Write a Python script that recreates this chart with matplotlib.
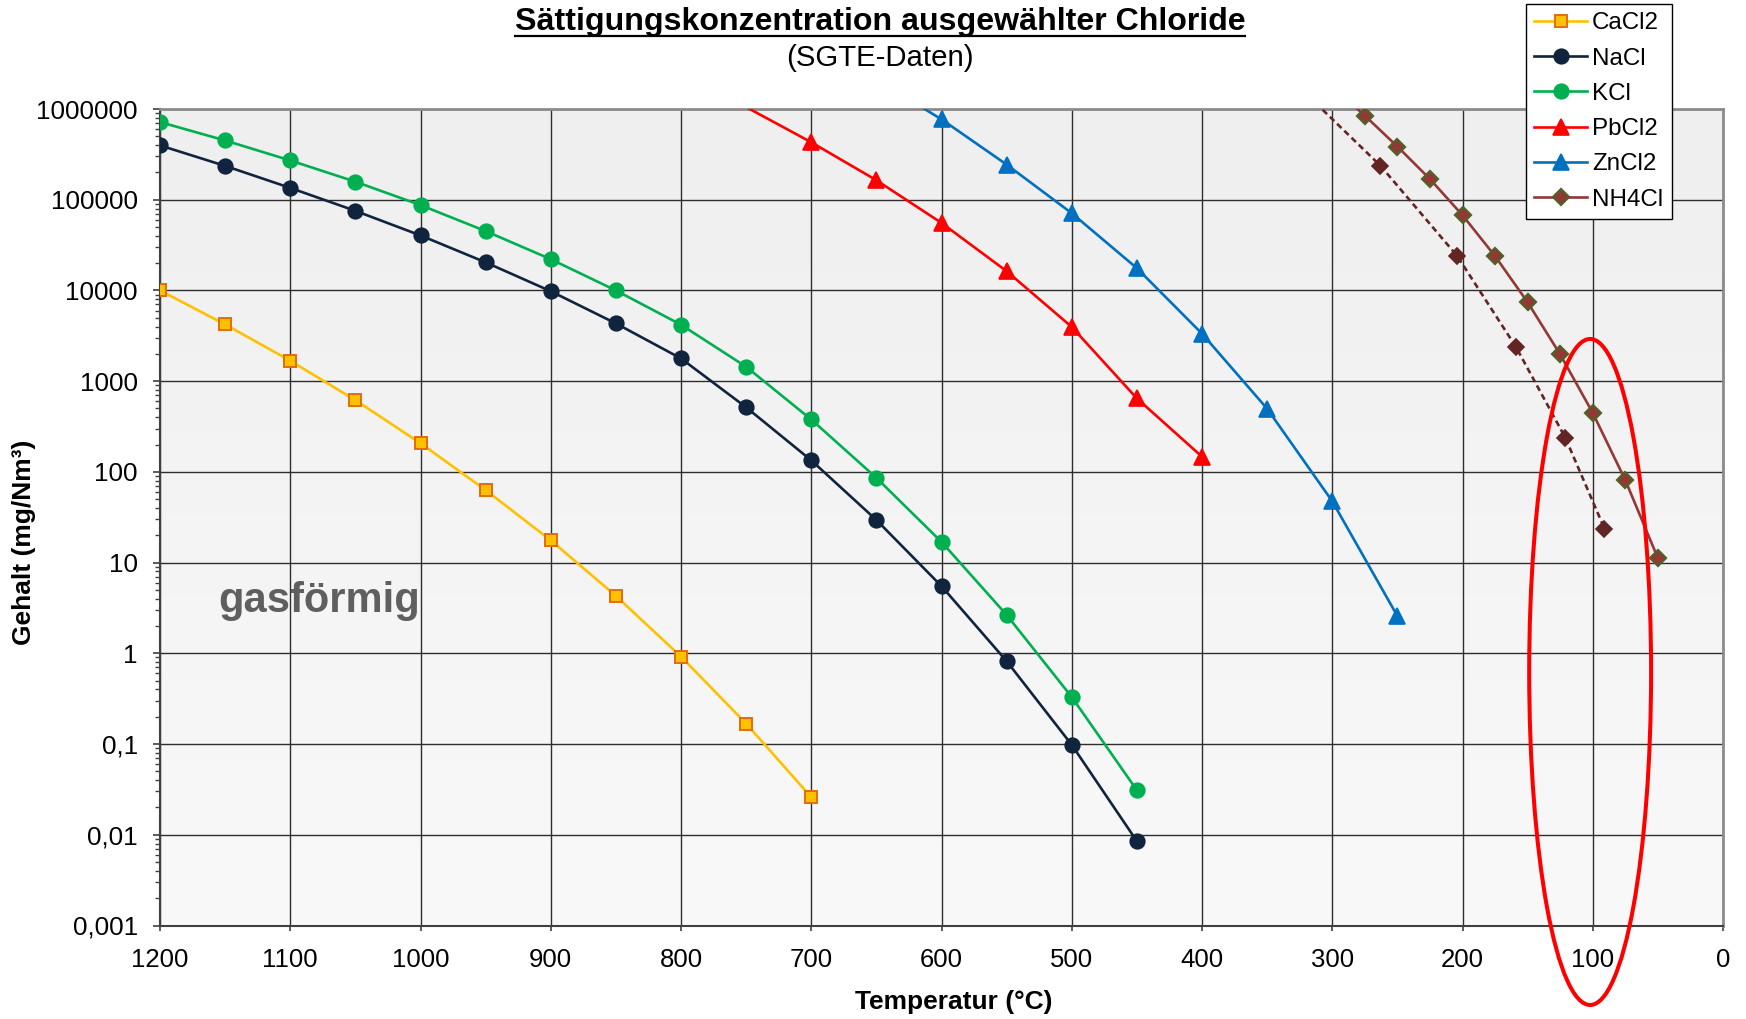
import matplotlib
matplotlib.use("Agg")
import matplotlib.pyplot as plt
import matplotlib.ticker as mticker
from matplotlib.patches import Ellipse
from matplotlib.lines import Line2D
import numpy as np

plt.rcParams["font.family"] = ["Liberation Sans", "DejaVu Sans"]

# ── Data (mg/Nm³ vs °C) ───────────────────────────────────────────────────────
T_CACL2 = [1200, 1150, 1100, 1050, 1000, 950, 900, 850, 800, 750, 700]
CACL2 = [10000, 4220, 1680, 617, 207, 63, 17.6, 4.3, 0.92, 0.168, 0.026]

T_NACL = [1200, 1150, 1100, 1050, 1000, 950, 900, 850, 800, 750, 700, 650, 600, 550, 500, 450]
NACL = [397000, 236000, 135000, 75400, 40400, 20400, 9800, 4330, 1780, 515, 134, 29.5, 5.5, 0.82, 0.098, 0.0085]

T_KCL = [1200, 1150, 1100, 1050, 1000, 950, 900, 850, 800, 750, 700, 650, 600, 550, 500, 450]
KCL = [718000, 450000, 271000, 158000, 87300, 45100, 22100, 10000, 4190, 1440, 378, 86, 16.9, 2.65, 0.33, 0.031]

T_PBCL2 = [750, 700, 650, 600, 550, 500, 450, 400]
PBCL2 = [1.05e6, 430000, 164000, 55500, 16300, 3960, 646, 147]

T_ZNCL2 = [650, 600, 550, 500, 450, 400, 350, 300, 250]
ZNCL2 = [2.1e6, 770000, 244000, 71000, 17600, 3340, 497, 47.5, 2.58]

T_NH4CL = [300, 275, 250, 225, 200, 175, 150, 125, 100, 75, 50]
NH4CL = [1.77e6, 845000, 386000, 169000, 67500, 23900, 7410, 1970, 447, 81, 11.2]

T_NH4CL_B = [335, 263, 204, 159, 121, 91]
NH4CL_B = [2.37e6, 237000, 23900, 2390, 237, 23.7]

X_TICKS = list(range(1200, -1, -100))
Y_TICKS = [1e-3, 1e-2, 1e-1, 1, 10, 100, 1e3, 1e4, 1e5, 1e6]
Y_TICK_LABELS = ["0,001", "0,01", "0,1", "1", "10", "100", "1000", "10000", "100000", "1000000"]
Y_MIN, Y_MAX = 1e-3, 1e6

# ── Figure ────────────────────────────────────────────────────────────────────
fig = plt.figure(figsize=(17.46, 10.19), dpi=100)
fig.patch.set_facecolor("white")
ax = fig.add_axes([160 / 1746, 1 - 925.5 / 1019, 1563 / 1746, 816.5 / 1019])

# subtle vertical gradient in plot area
grad = np.linspace(0, 1, 256).reshape(-1, 1)
ax.imshow(grad, extent=(0, 1, 0, 1), transform=ax.transAxes, aspect="auto",
          cmap=matplotlib.colors.LinearSegmentedColormap.from_list("bg", ["#f9f9f9", "#efefef"]),
          origin="lower", zorder=-1)

LW = 1.9


def series(t, v, color, marker, ms, mfc, mec, mew=1.2, ls="-", label=None):
    inside = [y <= Y_MAX for y in v]
    ax.plot(t, v, color=color, lw=LW, ls=ls, marker=marker, ms=ms, mfc=mfc, mec=mec,
            mew=mew, markevery=inside, label=label, zorder=3)


series(T_CACL2, CACL2, "#ffc000", "s", 8, "#ffc000", "#e46c0a", mew=1.4, label="CaCl2")
series(T_NACL, NACL, "#10243e", "o", 10.5, "#10243e", "#10243e", label="NaCl")
series(T_KCL, KCL, "#00b050", "o", 10.5, "#00b050", "#00b050", label="KCl")
series(T_PBCL2, PBCL2, "#ff0000", "^", 11, "#ff0000", "#ff0000", label="PbCl2")
series(T_ZNCL2, ZNCL2, "#0070c0", "^", 11, "#0070c0", "#0070c0", label="ZnCl2")
series(T_NH4CL, NH4CL, "#953735", "D", 8.3, "#953735", "#4f6228", mew=1.6, label="NH4Cl")
series(T_NH4CL_B, NH4CL_B, "#632523", "D", 8.3, "#632523", "#632523", ls=(0, (2.3, 1.5)))

# ── Axes styling ──────────────────────────────────────────────────────────────
ax.set_yscale("log")
ax.set_xlim(1200, 0)
ax.set_ylim(Y_MIN, Y_MAX)
ax.set_xticks(X_TICKS)
ax.set_xticklabels([str(x) for x in X_TICKS])
ax.set_yticks(Y_TICKS)
ax.set_yticklabels(Y_TICK_LABELS)
ax.yaxis.set_minor_locator(mticker.LogLocator(base=10, subs=np.arange(2, 10), numticks=100))
ax.yaxis.set_minor_formatter(mticker.NullFormatter())
ax.tick_params(axis="y", which="major", direction="out", length=5, width=1.2,
               color="#404040", labelsize=18.7, pad=11)
ax.tick_params(axis="y", which="minor", direction="out", length=3.5, width=1.0, color="#404040")
ax.tick_params(axis="x", which="major", direction="out", length=3.5, width=1.2,
               color="#404040", labelsize=18.5, pad=12.5)
ax.set_axisbelow(True)
ax.grid(which="major", color="#2e2e2e", lw=1.0)

for s in ["top", "right"]:
    ax.spines[s].set_color("#8c8c8c")
    ax.spines[s].set_linewidth(2)
for s in ["left", "bottom"]:
    ax.spines[s].set_color("#404040")
    ax.spines[s].set_linewidth(1.5)

ax.text(0.102, 0.397, "gasförmig", transform=ax.transAxes, fontsize=30,
        fontweight="bold", color="#5f5f5f", ha="center", va="center", zorder=2)

# red marking ellipse (axes fraction)
ax.add_patch(Ellipse((0.915, 0.3105), 0.078, 0.8157, transform=ax.transAxes,
                     fill=False, ec="#ff0000", lw=2.9, clip_on=False, zorder=6))

# ── Labels & title ────────────────────────────────────────────────────────────
fig.text(0.546, 0.0167, "Temperatur (°C)", ha="center", va="center",
         fontsize=19, fontweight="bold")
fig.text(0.0135, 0.468, "Gehalt (mg/Nm³)", ha="center", va="center",
         fontsize=19, fontweight="bold", rotation=90)

title = fig.text(0.504, 0.978, "Sättigungskonzentration ausgewählter Chloride",
                 ha="center", va="center", fontsize=23.1, fontweight="bold")
fig.text(0.504, 0.943, "(SGTE-Daten)", ha="center", va="center", fontsize=21.2)

renderer = fig.canvas.get_renderer()
bb = title.get_window_extent(renderer)
W, H = fig.bbox.width, fig.bbox.height
fig.add_artist(Line2D([bb.x0 / W, bb.x1 / W], [1 - 35.6 / 1019] * 2,
                      transform=fig.transFigure, color="black", lw=1.6))

# ── Legend ────────────────────────────────────────────────────────────────────
handles, labels = ax.get_legend_handles_labels()
leg = fig.legend(handles, labels, loc="upper left", bbox_to_anchor=(1526 / 1746, 1 - 4.0 / 1019),
                 borderaxespad=0, fontsize=17.4, frameon=True, fancybox=False,
                 edgecolor="black", facecolor="white", framealpha=1,
                 labelspacing=0.55, handlelength=2.2, handletextpad=0.2,
                 borderpad=0.34)
leg.get_frame().set_linewidth(1.0)

fig.savefig("out.png", dpi=100, facecolor="white")
